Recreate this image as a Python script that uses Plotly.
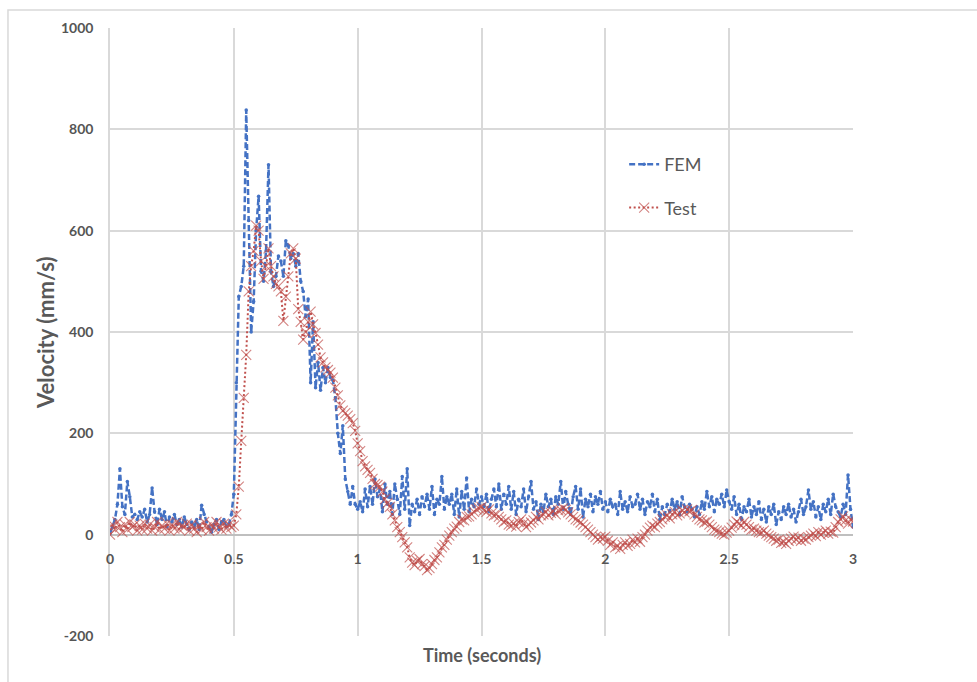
import plotly.graph_objects as go

# Sample times (s), 0.01 s spacing from 0 to 3 s
time_s = [round(i * 0.01, 2) for i in range(301)]

# FEM velocity (mm/s)
fem_velocity = [
    2, 15, 30, 60, 130, 55, 40, 105, 75, 35,
    40, 30, 45, 35, 50, 25, 40, 92, 45, 20,
    50, 30, 45, 15, 35, 25, 40, 20, 30, 15,
    35, 20, 10, 25, 15, 30, 10, 58, 40, 25,
    15, 5, 20, 30, 10, 25, 30, 15, 20, 40,
    80, 300, 470, 490, 530, 838, 620, 400, 460, 600,
    668, 520, 500, 560, 730, 520, 490, 510, 550, 540,
    510, 580, 570, 545, 555, 530, 555, 500, 480, 430,
    465, 300, 420, 290, 340, 285, 330, 300, 330, 310,
    305, 270, 200, 160, 215, 110, 85, 60, 95, 60,
    50, 65, 45, 90, 55, 95, 60, 110, 75, 90,
    45, 100, 60, 85, 40, 100, 70, 40, 115, 50,
    130, 18, 60, 45, 70, 40, 75, 55, 80, 50,
    95, 40, 70, 60, 115, 50, 75, 60, 80, 40,
    90, 35, 85, 50, 112, 45, 70, 55, 90, 60,
    75, 55, 80, 45, 70, 90, 55, 100, 50, 80,
    60, 95, 50, 85, 40, 70, 55, 90, 45, 75,
    105, 50, 65, 30, 60, 45, 80, 55, 70, 40,
    75, 60, 105, 50, 85, 60, 40, 75, 95, 50,
    90, 35, 70, 55, 80, 45, 75, 60, 85, 50,
    65, 45, 70, 55, 60, 40, 85, 50, 65, 45,
    75, 55, 60, 80, 50, 70, 40, 65, 55, 80,
    45, 70, 30, 55, 40, 60, 45, 70, 50, 65,
    40, 75, 55, 45, 60, 50, 35, 55, 40, 65,
    50, 85, 55, 75, 45, 70, 60, 80, 55, 88,
    65, 50, 75, 40, 60, 30, 55, 45, 70, 35,
    55, 40, 65, 30, 50, 25, 55, 40, 60, 20,
    45, 30, 55, 40, 60, 35, 50, 25, 45, 70,
    40, 55, 88, 50, 65, 35, 55, 30, 60, 45,
    70, 40, 80, 55, 45, 35, 60, 40, 118, 50,
    15,
]

# Measured (test) velocity (mm/s)
test_velocity = [
    0, 20, 10, 25, 15, 5, 20, 10, 25, 15,
    20, 8, 18, 10, 22, 12, 20, 8, 15, 25,
    10, 18, 12, 22, 8, 20, 12, 25, 10, 18,
    15, 22, 8, 20, 12, 5, 18, 10, 25, 15,
    8, 20, 12, 25, 15, 10, 22, 12, 20, 15,
    18, 40, 95, 185, 270, 355, 480, 530, 560, 610,
    600, 540, 505, 530, 565, 530, 510, 495, 490, 480,
    422, 470, 510, 555, 565, 545, 445, 420, 385, 400,
    420, 440, 415, 398, 375, 350, 340, 330, 325, 320,
    310, 290, 275, 255, 245, 240, 235, 228, 220, 205,
    180, 165, 145, 135, 128, 122, 110, 100, 98, 95,
    85, 70, 62, 55, 40, 28, 15, 5, -5, -15,
    -25, -45, -55, -60, -52, -48, -58, -62, -70, -66,
    -58, -50, -45, -35, -25, -20, -10, -2, 5, 12,
    16, 25, 30, 28, 35, 36, 40, 45, 50, 52,
    55, 48, 45, 50, 42, 38, 40, 35, 30, 25,
    28, 20, 18, 22, 16, 25, 30, 22, 15, 20,
    24, 28, 35, 30, 38, 40, 45, 38, 43, 46,
    40, 48, 49, 52, 49, 44, 40, 35, 30, 28,
    24, 20, 15, 10, 5, 0, -5, -10, -5, -8,
    -4, -12, -20, -15, -25, -22, -28, -20, -15, -22,
    -18, -10, -15, -8, -14, -5, 0, 8, 14, 18,
    15, 22, 25, 30, 35, 38, 32, 40, 45, 38,
    42, 48, 44, 50, 46, 49, 40, 35, 30, 28,
    24, 26, 20, 15, 10, 8, 5, 2, 0, 4,
    8, 14, 20, 26, 22, 18, 25, 20, 15, 10,
    12, 8, 5, 4, 8, 2, -2, -5, -8, -12,
    -10, -16, -14, -18, -12, -8, -4, -10, -6, -12,
    -8, -10, -5, -2, 2, -3, 5, 0, 4, 8,
    2, 6, 4, 15, 25, 30, 36, 28, 22, 30,
    26,
]

x_ticks = [0, 0.5, 1, 1.5, 2, 2.5, 3]
x_tick_text = ["0", "0.5", "1", "1.5", "2", "2.5", "3"]
y_ticks = [-200, 0, 200, 400, 600, 800, 1000]
y_tick_text = ["-200", "0", "200", "400", "600", "800", "1000"]

BLUE = "#4472C4"
RED = "#C0504D"
RED_SOFT = "rgba(192,80,77,0.7)"
GRID = "#d9d9d9"
TEXT = "#595959"
TICK = "#555555"
FONT = "Lato, 'Open Sans', sans-serif"

fig = go.Figure()

fig.add_trace(go.Scatter(
    x=time_s, y=fem_velocity, name="FEM", mode="lines+markers",
    legendgroup="fem",
    line=dict(color=BLUE, width=2.5, dash="6px,3px"),
    marker=dict(symbol="circle", size=3.5, color=BLUE),
))

fig.add_trace(go.Scatter(
    x=time_s, y=test_velocity, name="Test", mode="lines+markers",
    legendgroup="test",
    line=dict(color=RED, width=2, dash="2px,2.5px"),
    marker=dict(symbol="x-thin", size=10, color=RED_SOFT,
                line=dict(width=1.1, color=RED_SOFT)),
))

# Outer chart border
fig.add_shape(type="rect", xref="paper", yref="paper",
              x0=-0.1373, x1=1.25, y0=-0.2, y1=1.0296,
              line=dict(color=GRID, width=1.5), fillcolor="rgba(0,0,0,0)",
              layer="below")

fig.update_layout(
    width=977, height=682,
    margin=dict(l=110, r=124, t=28, b=46),
    paper_bgcolor="white", plot_bgcolor="white",
    font=dict(family=FONT, color=TEXT),
    showlegend=True,
    legend=dict(
        x=0.692, y=0.806, xanchor="left", yanchor="top",
        bgcolor="rgba(0,0,0,0)", font=dict(size=18, color=TEXT, family=FONT),
        tracegroupgap=17, itemwidth=30,
    ),
    xaxis=dict(
        range=[0, 3], tickvals=x_ticks, ticktext=x_tick_text,
        showgrid=True, gridcolor=GRID, gridwidth=1.5,
        zeroline=False, showline=False,
        anchor="free", position=(636 - 535) / 608,
        tickfont=dict(size=14, color=TICK, family=FONT, weight="bold"),
        ticks="", ticklabelstandoff=14,
    ),
    yaxis=dict(
        range=[-200, 1000], tickvals=y_ticks, ticktext=y_tick_text,
        showgrid=True, gridcolor=GRID, gridwidth=1.5,
        zeroline=True, zerolinecolor="#bfbfbf", zerolinewidth=1.5,
        showline=True, linecolor=GRID, linewidth=1.5,
        tickfont=dict(size=14, color=TICK, family=FONT, weight="bold"),
        ticks="", ticklabelstandoff=12,
    ),
    annotations=[
        dict(text="<b>Time (seconds)</b>", xref="paper", yref="paper",
             x=0.5, y=-0.031, xanchor="center", yanchor="middle",
             showarrow=False, font=dict(size=18, color=TEXT, family=FONT)),
        dict(text="<b>Velocity (mm/s)</b>", xref="paper", yref="paper",
             x=-0.0875, y=0.5, xanchor="center", yanchor="middle",
             textangle=-90, showarrow=False,
             font=dict(size=22, color=TEXT, family=FONT)),
    ],
)

fig.write_html("out.html")
